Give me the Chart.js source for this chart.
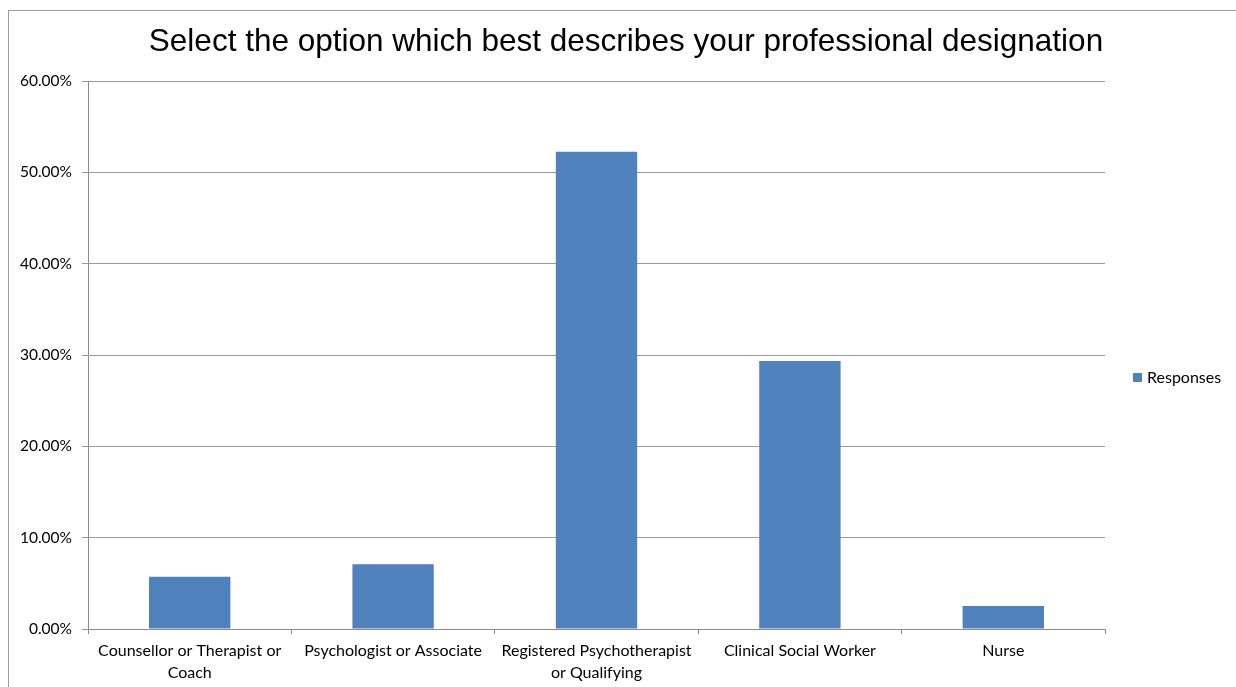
<!DOCTYPE html>
<html>
<head>
<meta charset="utf-8">
<script src="https://cdn.jsdelivr.net/npm/chart.js@4"></script>
<style>
  html, body { margin: 0; padding: 0; background: #ffffff; }
  #wrap { width: 1236px; height: 687px; }
</style>
</head>
<body>
<div id="wrap"><canvas id="chart" width="1236" height="687"></canvas></div>
<script>
const chartTitle = "Select the option which best describes your professional designation";
//Categories (multi-line labels as in the picture)
const categories = [
  ["Counsellor or Therapist or", "Coach"],
  ["Psychologist or Associate"],
  ["Registered Psychotherapist", "or Qualifying"],
  ["Clinical Social Worker"],
  ["Nurse"],
];
//Percent of responses per category
const responses = [5.73, 7.09, 52.24, 29.35, 2.52];
const seriesName = "Responses";
const barColor = "#4f81bd";
const labelFont = "Lato";

//Plugin for outer frame, title and legend
const decorations = {
  id: "decorations",
  afterDraw: chart => {
    const ctx = chart.ctx;
    ctx.save();
    //chart frame
    ctx.strokeStyle = "#9a9a9a";
    ctx.lineWidth = 1;
    ctx.strokeRect(8.5, 10.5, 1260, 760);
    //title
    ctx.fillStyle = "#000000";
    ctx.font = "31.5px 'Liberation Sans'";
    ctx.textAlign = "center";
    ctx.textBaseline = "alphabetic";
    ctx.fillText(chartTitle, 626, 51);
    //legend
    ctx.fillStyle = barColor;
    ctx.fillRect(1133, 373, 9, 9);
    ctx.fillStyle = "#000000";
    ctx.font = "16px " + labelFont;
    ctx.textAlign = "left";
    ctx.textBaseline = "middle";
    ctx.fillText(seriesName, 1147, 378);
    ctx.restore();
  }
};

new Chart(document.getElementById("chart"), {
  type: "bar",
  plugins: [decorations],
  data: {
    labels: categories,
    datasets: [{
      label: seriesName,
      data: responses,
      backgroundColor: barColor,
      barPercentage: 0.4,
      categoryPercentage: 1.0,
    }],
  },
  options: {
    responsive: false,
    animation: false,
    layout: { padding: { left: 8, right: 131, top: 81, bottom: 0 } },
    plugins: {
      legend: { display: false },
      tooltip: { enabled: false },
      title: { display: false },
    },
    scales: {
      x: {
        afterFit: scale => { scale.height = 58; },
        grid: { drawOnChartArea: false, drawTicks: true, tickLength: 5, color: "#8c8c8c", offset: true },
        border: { color: "#8c8c8c" },
        ticks: {
          color: "#000000",
          font: { family: labelFont, size: 16, lineHeight: 1.375 },
          padding: 6,
          maxRotation: 0,
          autoSkip: false,
        },
      },
      y: {
        min: 0,
        max: 60,
        afterFit: scale => { scale.width = 80; },
        grid: { color: "#9a9a9a", tickLength: 6 },
        border: { color: "#8c8c8c" },
        ticks: {
          stepSize: 10,
          color: "#000000",
          padding: 10,
          font: { family: labelFont, size: 15.5 },
          callback: v => v.toFixed(2) + "%",
        },
      },
    },
  },
});
</script>
</body>
</html>
